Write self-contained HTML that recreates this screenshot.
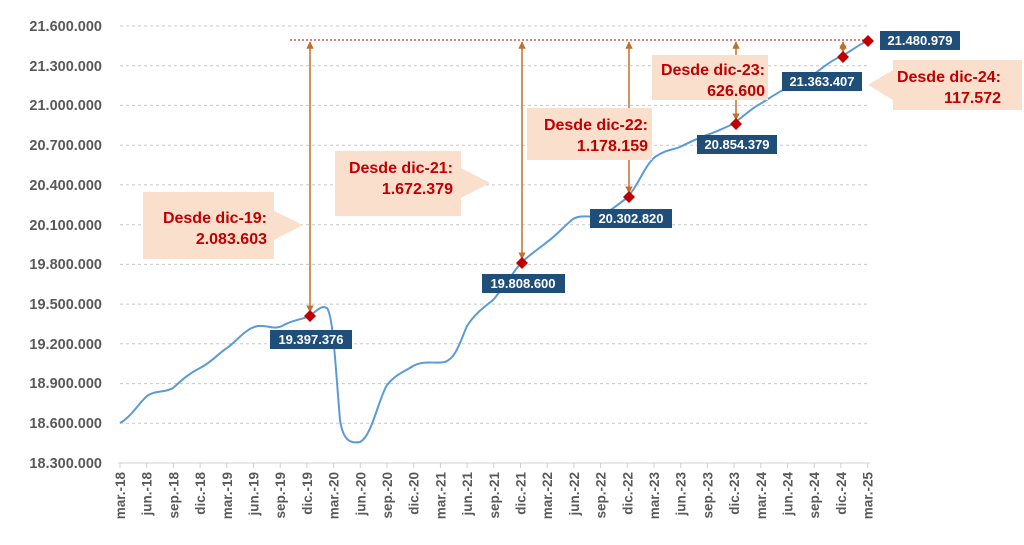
<!DOCTYPE html>
<html><head><meta charset="utf-8"><style>
html,body{margin:0;padding:0;background:#fff;width:1024px;height:545px;overflow:hidden}
svg{display:block;font-family:"Liberation Sans",sans-serif;font-weight:bold}
</style></head><body>
<svg width="1024" height="545" viewBox="0 0 1024 545">
<defs>
<marker id="ah" viewBox="0 0 10 10" refX="9" refY="5" markerWidth="5" markerHeight="5" orient="auto-start-reverse"><path d="M0,0L10,5L0,10z" fill="#c0702c"/></marker>
</defs>
<g stroke="#c8c8c8" stroke-dasharray="3,3" stroke-width="1">
<line x1="120" x2="870" y1="26" y2="26"/><line x1="120" x2="870" y1="65.7" y2="65.7"/>
<line x1="120" x2="870" y1="105.4" y2="105.4"/><line x1="120" x2="870" y1="145.2" y2="145.2"/>
<line x1="120" x2="870" y1="184.9" y2="184.9"/><line x1="120" x2="870" y1="224.7" y2="224.7"/>
<line x1="120" x2="870" y1="264.4" y2="264.4"/><line x1="120" x2="870" y1="304.1" y2="304.1"/>
<line x1="120" x2="870" y1="343.8" y2="343.8"/><line x1="120" x2="870" y1="383.6" y2="383.6"/>
<line x1="120" x2="870" y1="423.3" y2="423.3"/>
</g>
<line x1="118" x2="870" y1="463" y2="463" stroke="#d0d0d0"/>
<g fill="#595959" font-size="14.5" text-anchor="end">
<text x="102" y="31">21.600.000</text><text x="102" y="71">21.300.000</text>
<text x="102" y="110">21.000.000</text><text x="102" y="150">20.700.000</text>
<text x="102" y="190">20.400.000</text><text x="102" y="230">20.100.000</text>
<text x="102" y="269">19.800.000</text><text x="102" y="309">19.500.000</text>
<text x="102" y="349">19.200.000</text><text x="102" y="388">18.900.000</text>
<text x="102" y="428">18.600.000</text><text x="102" y="468">18.300.000</text>
</g>
<g id="xl" fill="#595959" font-size="13.5" text-anchor="end"></g>
<g id="tk" stroke="#d0d0d0"></g>
<line x1="290" x2="870" y1="40" y2="40" stroke="#c00000" stroke-dasharray="2,2" stroke-width="1"/>
<path d="M120,423 C132,416 138,404 147,396 C155,390 165,393 173,388 C182,380 188,374 200,368 C212,362 220,352 227,348 C238,340 246,328 258,326 C268,325 274,330 282,326 C292,320 300,320 307,317 C315,314 320,304 327,308 C333,316 335,360 340,420 C343,440 350,444 360,442 C372,436 378,400 387,385 C396,374 404,372 413,366 C424,360 434,364 445,362 C456,358 460,342 467,326 C476,312 486,306 493,300 C502,290 512,274 520,264 C530,254 540,248 547,242 C556,236 564,226 573,219 C582,214 590,218 600,216 C610,212 618,204 627,198 C638,186 645,165 655,157 C665,150 672,150 680,147 C690,142 698,138 707,135 C716,132 724,128 733,124 C744,116 752,108 760,104 C770,98 778,92 787,88 C797,84 805,80 813,75 C822,68 832,60 840,57 C850,52 858,45 867,41" fill="none" stroke="#5b9bd5" stroke-width="2"/>
<g stroke="#c0702c" stroke-width="1.5" fill="none">
<line x1="310" y1="42" x2="310" y2="312" marker-start="url(#ah)" marker-end="url(#ah)"/>
<line x1="522" y1="42" x2="522" y2="259" marker-start="url(#ah)" marker-end="url(#ah)"/>
<line x1="629" y1="42" x2="629" y2="193" marker-start="url(#ah)" marker-end="url(#ah)"/>
<line x1="736" y1="42" x2="736" y2="120" marker-start="url(#ah)" marker-end="url(#ah)"/>
<line x1="843" y1="42" x2="843" y2="52" marker-start="url(#ah)" marker-end="url(#ah)"/>
</g>
<g fill="#fbdfcd">
<path d="M143,192H274V211H303V225L274,240V259H143Z" opacity="0"/>
<path d="M143,192H274V259H143Z"/><path d="M274,211L303,225L274,240Z"/>
<path d="M335,151H461V216H335Z"/><path d="M461,168L490,183L461,198Z"/>
<path d="M527,108H652V160H527Z"/>
<path d="M652,55H768V100H652Z"/>
<path d="M893,60H1022V110H893Z"/><path d="M893,70L868,85L893,100Z"/>
</g>
<g fill="#c00000" font-size="16" text-anchor="end">
<text x="267" y="223">Desde dic-19:</text><text x="267" y="244">2.083.603</text>
<text x="453" y="173">Desde dic-21:</text><text x="453" y="194">1.672.379</text>
<text x="648" y="130">Desde dic-22:</text><text x="648" y="151">1.178.159</text>
<text x="765" y="75">Desde dic-23:</text><text x="765" y="96">626.600</text>
<text x="1001" y="82">Desde dic-24:</text><text x="1001" y="103">117.572</text>
</g>
<g fill="#c00000">
<path d="M310,310l6,6l-6,6l-6,-6z"/><path d="M522,257l6,6l-6,6l-6,-6z"/>
<path d="M629,191l6,6l-6,6l-6,-6z"/><path d="M736,118l6,6l-6,6l-6,-6z"/>
<path d="M843,51l6,6l-6,6l-6,-6z"/><path d="M868,35l6,6l-6,6l-6,-6z"/>
</g>
<g fill="#1f4e79">
<rect x="270" y="330" width="82" height="19"/><rect x="482" y="274" width="83" height="19"/>
<rect x="590" y="209" width="82" height="19"/><rect x="697" y="135" width="80" height="19"/>
<rect x="782" y="72" width="80" height="19"/><rect x="880" y="31" width="80" height="19"/>
</g>
<g fill="#fff" font-size="13" text-anchor="middle">
<text x="311" y="344">19.397.376</text><text x="523" y="288">19.808.600</text>
<text x="631" y="223">20.302.820</text><text x="737" y="149">20.854.379</text>
<text x="822" y="86">21.363.407</text><text x="920" y="45">21.480.979</text>
</g>
</svg>
<script>
var m=["mar.","jun.","sep.","dic."],g=document.getElementById("xl"),t=document.getElementById("tk"),ns="http://www.w3.org/2000/svg";
for(var i=0;i<=28;i++){var x=120+i*26.7,y=18+Math.floor((i)/4);
var s=m[i%4]+"-"+y;var e=document.createElementNS(ns,"text");e.setAttribute("transform","translate("+(x+5)+",472) rotate(-90)");e.textContent=s;g.appendChild(e);
var l=document.createElementNS(ns,"line");l.setAttribute("x1",x);l.setAttribute("x2",x);l.setAttribute("y1",463);l.setAttribute("y2",468);t.appendChild(l);}
</script>
</body></html>
